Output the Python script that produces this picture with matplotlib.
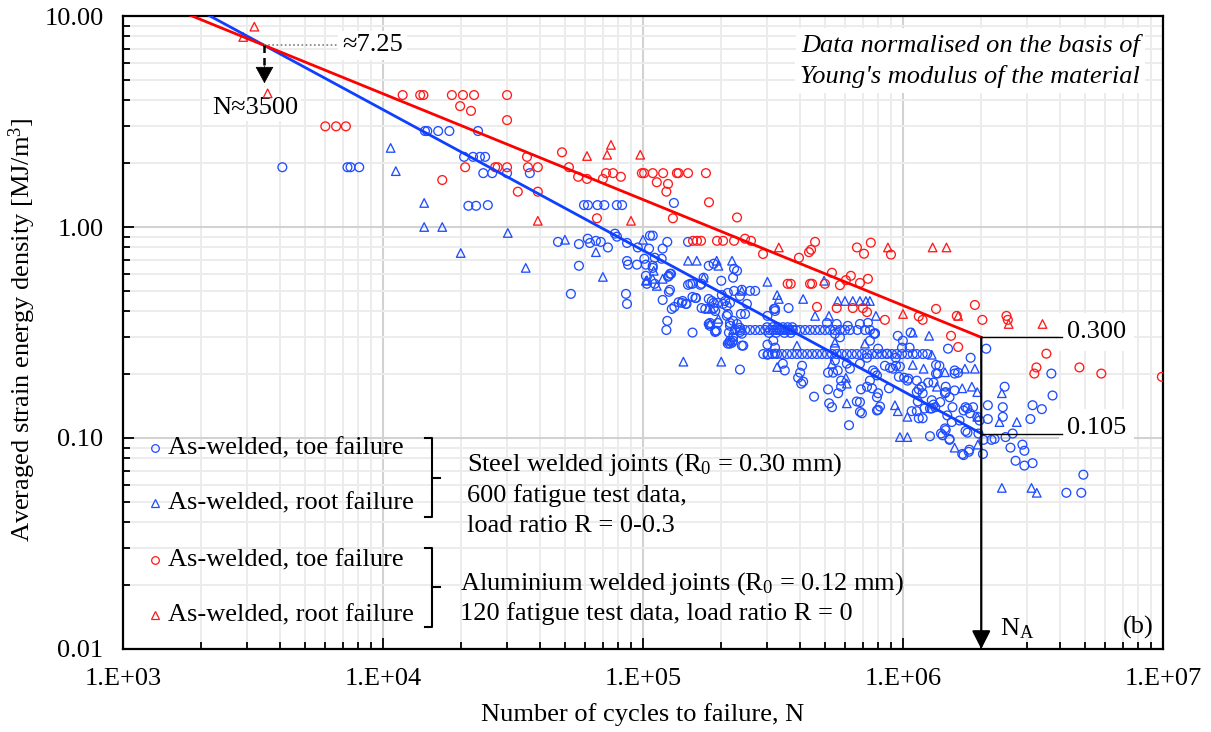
import matplotlib
matplotlib.use("Agg")
import matplotlib.pyplot as plt
from matplotlib.lines import Line2D
from matplotlib.ticker import FixedLocator, FuncFormatter, NullFormatter
import numpy as np

plt.rcParams['font.family'] = ['Liberation Serif', 'DejaVu Serif']
plt.rcParams['mathtext.fontset'] = 'custom'
plt.rcParams['mathtext.rm'] = 'Liberation Serif'
plt.rcParams['mathtext.it'] = 'Liberation Serif:italic'

# ---------------------------------------------------------------- data
# Steel welded joints, as-welded, toe failure (cycles, SED in MJ/m^3)
steel_toe_cycles = [
    4100, 7300, 7500, 8100, 14500, 14800, 16300, 18000, 23200, 20500,
    22200, 23600, 24700, 24300, 26300, 30000, 36700, 21300, 22800, 25300,
    59300, 61400, 66800, 71000, 79300, 83100, 131500, 47100, 56700, 61300,
    62500, 65900, 68800, 73300, 78000, 79400, 86800, 95500, 106400, 109000,
    124000, 105500, 119000, 149000, 56700, 52800, 86000, 86800, 86800, 87600,
    94800, 102600, 109000, 118000, 125800, 127000, 119000, 127000, 137000, 142000,
    147000, 129000, 132000, 124000, 123000, 155000, 149000, 155000, 168000, 179000,
    187000, 194000, 179000, 189500, 203000, 210000, 212000, 222000, 238000, 247000,
    214000, 222000, 216000, 240000, 236000, 224000, 240000, 258000, 270000, 251000,
    301000, 301000, 322000, 236000, 155000, 159000, 141000, 168000, 101200, 111000,
    109000, 102600, 103500, 111000, 128200, 124800, 125800, 146000, 160000, 152000,
    166000, 171000, 184000, 187000, 189500, 181000, 194000, 189500, 201000, 207000,
    216000, 212000, 236000, 222000, 230000, 216000, 230000, 236000, 240000, 216000,
    222000, 243000, 322000, 301000, 322000, 179000, 187000, 224000, 200000, 322000,
    363000, 210000, 216000, 181000, 192000, 173500, 212000, 220000, 319000, 317000,
    345000, 351000, 409000, 402000, 395000, 413000, 406000, 455000, 515000, 520000,
    533000, 563000, 578000, 664000, 620000, 689000, 727000, 746000, 695000, 794000,
    547000, 572000, 547000, 608000, 625000, 683000, 727000, 746000, 780000, 561000,
    538000, 515000, 780000, 794000, 547000, 578000, 802000, 868000, 939000, 991000,
    999000, 955000, 1060000, 852000, 915000, 973000, 1010000, 1050000, 1130000, 1180000,
    1140000, 1080000, 1190000, 1270000, 1310000, 1310000, 1340000, 1380000, 1490000, 1580000,
    1630000, 1460000, 1460000, 1510000, 1390000, 1550000, 1710000, 1770000, 1810000, 1860000,
    1970000, 1950000, 2030000, 1710000, 1800000, 1270000, 1420000, 1460000, 1510000, 2090000,
    1820000, 802000, 760000, 816000, 794000, 773000, 1070000, 767000, 891000, 940000,
    964000, 1040000, 1130000, 1250000, 1360000, 1340000, 1580000, 883000, 683000, 802000,
    1150000, 1190000, 1290000, 1450000, 1580000, 1210000, 1290000, 1130000, 1150000, 1330000,
    1930000, 1480000, 1540000, 1450000, 1400000, 1510000, 1770000, 1690000, 1790000, 683000,
    3720000, 2460000, 3760000, 2120000, 2420000, 3150000, 3420000, 2120000, 2420000, 3090000,
    2640000, 2480000, 2040000, 2190000, 2250000, 2590000, 2880000, 2930000, 2710000, 2930000,
    3150000, 4940000, 4250000, 4850000, 1740000, 1740000, 1650000, 510000, 556000, 613000,
    683000, 733000, 780000,
    226000, 236000, 247000, 258000, 270000, 282000, 295000, 308000, 317000, 327000,
    333000, 336000, 342000, 348000, 354000, 360000, 367000, 377000, 388000, 402000,
    420000, 439000, 459000, 479000, 501000, 524000, 547000, 572000, 598000, 625000,
    668000, 714000, 746000,
    300000, 315000, 330000, 345000, 360000, 375000, 305000, 325000, 350000, 370000,
    290000, 303000, 315000, 328000, 342000, 358000, 374000, 391000, 409000, 428000,
    447000, 467000, 488000, 510000, 533000, 556000, 582000, 608000, 636000, 664000,
    695000, 727000, 760000, 794000, 830000, 867000, 907000, 947000, 991000, 1040000,
    1090000, 1130000, 1190000, 1240000,
]
steel_toe_sed = [
    1.92, 1.92, 1.92, 1.92, 2.85, 2.85, 2.85, 2.85, 2.85, 2.15,
    2.15, 2.15, 2.15, 1.80, 1.80, 1.80, 1.80, 1.26, 1.26, 1.27,
    1.27, 1.27, 1.27, 1.27, 1.27, 1.27, 1.30, 0.85, 0.83, 0.88,
    0.84, 0.86, 0.85, 0.80, 0.93, 0.90, 0.84, 0.80, 0.91, 0.91,
    0.85, 0.79, 0.79, 0.85, 0.655, 0.482, 0.482, 0.432, 0.69, 0.663,
    0.663, 0.663, 0.64, 0.707, 0.587, 0.60, 0.451, 0.504, 0.44, 0.446,
    0.432, 0.409, 0.418, 0.359, 0.325, 0.316, 0.532, 0.538, 0.538, 0.456,
    0.437, 0.437, 0.347, 0.322, 0.432, 0.422, 0.387, 0.359, 0.387, 0.387,
    0.316, 0.30, 0.28, 0.274, 0.318, 0.498, 0.504, 0.498, 0.498, 0.432,
    0.379, 0.248, 0.251, 0.211, 0.466, 0.461, 0.437, 0.413, 0.707, 0.715,
    0.655, 0.587, 0.538, 0.538, 0.60, 0.581, 0.493, 0.432, 0.461, 0.538,
    0.532, 0.575, 0.446, 0.413, 0.40, 0.351, 0.351, 0.318, 0.476, 0.446,
    0.437, 0.487, 0.471, 0.575, 0.62, 0.351, 0.347, 0.333, 0.312, 0.289,
    0.289, 0.274, 0.40, 0.277, 0.268, 0.655, 0.67, 0.634, 0.556, 0.409,
    0.413, 0.379, 0.34, 0.34, 0.322, 0.409, 0.28, 0.283, 0.409, 0.289,
    0.225, 0.209, 0.22, 0.204, 0.193, 0.185, 0.181, 0.157, 0.17, 0.146,
    0.14, 0.163, 0.175, 0.149, 0.115, 0.17, 0.175, 0.187, 0.131, 0.156,
    0.312, 0.30, 0.233, 0.225, 0.213, 0.225, 0.24, 0.289, 0.312, 0.209,
    0.204, 0.204, 0.204, 0.198, 0.265, 0.187, 0.265, 0.251, 0.24, 0.268,
    0.289, 0.305, 0.268, 0.22, 0.213, 0.218, 0.193, 0.191, 0.165, 0.175,
    0.149, 0.134, 0.124, 0.138, 0.144, 0.183, 0.202, 0.22, 0.265, 0.202,
    0.204, 0.175, 0.165, 0.156, 0.148, 0.14, 0.135, 0.138, 0.131, 0.14,
    0.121, 0.105, 0.084, 0.083, 0.088, 0.102, 0.103, 0.109, 0.099, 0.265,
    0.24, 0.163, 0.172, 0.141, 0.135, 0.312, 0.316, 0.209, 0.215, 0.22,
    0.195, 0.187, 0.187, 0.183, 0.202, 0.222, 0.209, 0.172, 0.148, 0.136,
    0.17, 0.163, 0.151, 0.163, 0.168, 0.138, 0.138, 0.134, 0.124, 0.14,
    0.126, 0.128, 0.119, 0.111, 0.105, 0.098, 0.106, 0.084, 0.086, 0.133,
    0.202, 0.175, 0.159, 0.143, 0.14, 0.143, 0.137, 0.123, 0.126, 0.123,
    0.105, 0.101, 0.098, 0.098, 0.099, 0.09, 0.093, 0.087, 0.078, 0.074,
    0.076, 0.067, 0.055, 0.055, 0.14, 0.108, 0.121, 0.351, 0.347, 0.34,
    0.347, 0.351, 0.314,
    0.325, 0.325, 0.325, 0.325, 0.325, 0.325, 0.325, 0.325, 0.325, 0.325,
    0.325, 0.325, 0.325, 0.325, 0.325, 0.325, 0.325, 0.325, 0.325, 0.325,
    0.325, 0.325, 0.325, 0.325, 0.325, 0.325, 0.325, 0.325, 0.325, 0.325,
    0.325, 0.325, 0.325,
    0.335, 0.335, 0.335, 0.335, 0.335, 0.335, 0.315, 0.315, 0.315, 0.315,
    0.25, 0.25, 0.25, 0.25, 0.25, 0.25, 0.25, 0.25, 0.25, 0.25,
    0.25, 0.25, 0.25, 0.25, 0.25, 0.25, 0.25, 0.25, 0.25, 0.25,
    0.25, 0.25, 0.25, 0.25, 0.25, 0.25, 0.25, 0.25, 0.25, 0.25,
    0.25, 0.25, 0.25, 0.25,
]

# Steel welded joints, as-welded, root failure
steel_root_cycles = [
    10700, 11200, 14400, 14400, 16900, 19900, 30200, 35400, 50100, 65900,
    70100, 100000, 103500, 149000, 161000, 192000, 220000, 195000, 301000, 109000,
    102600, 113000, 119000, 110000, 178000, 184000, 181000, 195000, 222000, 212000,
    143000, 200000, 328000, 171000, 240000, 497000, 328000, 333000, 413000, 459000,
    519000, 561000, 598000, 641000, 683000, 720000, 746000, 787000, 391000, 608000,
    603000, 608000, 714000, 547000, 533000, 1090000, 1260000, 1290000, 1090000, 1200000,
    1450000, 1730000, 1890000, 1350000, 1690000, 1840000, 1930000, 931000, 955000, 1040000,
    973000, 1040000, 1580000, 1940000, 1930000, 2400000, 2350000, 2740000, 2400000, 3120000,
    3270000,
]
steel_root_sed = [
    2.37, 1.84, 1.30, 1.00, 1.00, 0.753, 0.937, 0.64, 0.87, 0.76,
    0.58, 0.87, 0.56, 0.692, 0.692, 0.692, 0.692, 0.655, 0.55, 0.568,
    0.556, 0.526, 0.568, 0.62, 0.413, 0.409, 0.347, 0.367, 0.325, 0.289,
    0.23, 0.23, 0.217, 0.575, 0.498, 0.556, 0.476, 0.456, 0.456, 0.379,
    0.379, 0.446, 0.446, 0.446, 0.446, 0.446, 0.446, 0.379, 0.274, 0.181,
    0.193, 0.146, 0.28, 0.283, 0.225, 0.316, 0.305, 0.248, 0.222, 0.213,
    0.205, 0.213, 0.213, 0.175, 0.172, 0.175, 0.165, 0.143, 0.134, 0.126,
    0.101, 0.101, 0.09, 0.093, 0.126, 0.163, 0.119, 0.119, 0.058, 0.058,
    0.055,
]

# Aluminium welded joints, as-welded, toe failure
alu_toe_cycles = [
    6000, 6600, 7200, 11900, 13900, 14300, 16900, 18400, 19800, 20300,
    20700, 21800, 22400, 27000, 27600, 30000, 30000, 30000, 33000, 35800,
    36100, 39400, 39400, 48800, 51900, 56300, 60900, 66500, 70100, 72100,
    76700, 82200, 99000, 101000, 109000, 113000, 119500, 123000, 124800, 130300,
    135000, 137000, 149000, 155700, 161300, 167200, 174600, 179400, 192600, 203300,
    224000, 230000, 246800, 260200, 289500, 360000, 370000, 398000, 435000, 439000,
    443000, 447000, 459000, 467000, 501000, 533000, 556000, 572000, 603000, 630000,
    641000, 665000, 683000, 701000, 708000, 727000, 733000, 752000, 852000, 899000,
    1150000, 1190000, 1340000, 1530000, 1610000, 1630000, 1890000, 2020000, 2500000, 2530000,
    3200000, 3260000, 3560000, 4770000, 5790000, 9900000,
]
alu_toe_sed = [
    3.0, 3.0, 3.0, 4.22, 4.22, 4.22, 1.67, 4.22, 3.74, 4.22,
    1.92, 3.55, 4.22, 1.92, 1.92, 4.22, 3.21, 1.92, 1.47, 2.15,
    1.92, 1.92, 1.47, 2.26, 1.92, 1.73, 1.69, 1.10, 1.69, 1.80,
    1.80, 1.73, 1.80, 1.80, 1.80, 1.63, 1.80, 1.47, 1.60, 1.10,
    1.80, 1.80, 1.80, 0.86, 0.86, 0.86, 1.80, 1.31, 0.86, 0.86,
    0.86, 1.11, 0.88, 0.86, 0.745, 0.538, 0.538, 0.715, 0.76, 0.538,
    0.78, 0.538, 0.85, 0.418, 0.538, 0.607, 0.413, 0.53, 0.56, 0.587,
    0.413, 0.80, 0.543, 0.413, 0.747, 0.395, 0.568, 0.843, 0.363, 0.74,
    0.377, 0.363, 0.409, 0.305, 0.379, 0.27, 0.427, 0.363, 0.379, 0.363,
    0.202, 0.216, 0.251, 0.216, 0.202, 0.195,
]

# Aluminium welded joints, as-welded, root failure
alu_root_cycles = [
    2900, 3200, 3600, 39400, 60900, 72800, 75300, 89900, 97600, 333000,
    875000, 1000000, 1300000, 1470000, 1630000, 2550000, 3440000,
]
alu_root_sed = [
    7.95, 8.9, 4.3, 1.07, 2.17, 2.2, 2.45, 1.07, 2.2, 0.80,
    0.80, 0.387, 0.80, 0.80, 0.379, 0.347, 0.347,
]

# Design curves: SED at N_A and the point where the two curves meet
N_A = 2.0e6
steel_sed_at_NA = 0.105
alu_sed_at_NA = 0.300
N_cross = 3500
sed_cross = 7.25

x_major = [1e3, 1e4, 1e5, 1e6, 1e7]
y_major = [0.01, 0.1, 1.0, 10.0]

BLUE = '#1f4dff'
RED = '#ff1a1a'
FS = 19

# ---------------------------------------------------------------- figure
fig = plt.figure(figsize=(12.11, 7.32), dpi=100)
ax = fig.add_axes([0.10157, 0.11339, 0.85879, 0.86475])
ax.set_xscale('log')
ax.set_yscale('log')
ax.set_xlim(x_major[0], x_major[-1])
ax.set_ylim(y_major[0], y_major[-1])

minor_x = [m * 10.0 ** e for e in range(3, 7) for m in range(2, 10)]
minor_y = [m * 10.0 ** e for e in range(-2, 1) for m in range(2, 10)]
ax.xaxis.set_major_locator(FixedLocator(x_major))
ax.yaxis.set_major_locator(FixedLocator(y_major))
ax.xaxis.set_minor_locator(FixedLocator(minor_x))
ax.yaxis.set_minor_locator(FixedLocator(minor_y))
ax.xaxis.set_major_formatter(FuncFormatter(lambda v, p: "1.E+%02d" % round(np.log10(v))))
ax.yaxis.set_major_formatter(FuncFormatter(lambda v, p: "%.2f" % v))
ax.xaxis.set_minor_formatter(NullFormatter())
ax.yaxis.set_minor_formatter(NullFormatter())

ax.tick_params(which='both', direction='in', top=False, right=False,
               labelsize=FS, width=1.3, pad=14)
ax.tick_params(which='major', length=8)
ax.tick_params(which='minor', length=5)

ax.grid(which='major', color='#d2d2d2', lw=1.5)
ax.grid(which='minor', color='#ececec', lw=1.4)
ax.set_axisbelow(True)
for s in ax.spines.values():
    s.set_linewidth(1.6)
    s.set_color('black')

# scatter data
mk = dict(facecolors='none', linewidths=0.95, zorder=3)
ax.scatter(steel_toe_cycles, steel_toe_sed, marker='o', s=40, edgecolors=BLUE, **mk)
ax.scatter(steel_root_cycles, steel_root_sed, marker='^', s=38, edgecolors=BLUE, **mk)
ax.scatter(alu_toe_cycles, alu_toe_sed, marker='o', s=40, edgecolors=RED, **mk)
ax.scatter(alu_root_cycles, alu_root_sed, marker='^', s=38, edgecolors=RED, **mk)

# design curves through the stated values
k_steel = np.log10(sed_cross / steel_sed_at_NA) / np.log10(N_A / N_cross)
k_alu = np.log10(sed_cross / alu_sed_at_NA) / np.log10(N_A / N_cross)
n_ends = np.array([x_major[0], N_A])
ax.plot(n_ends, steel_sed_at_NA * (n_ends / N_A) ** (-k_steel), color='#1040ff', lw=2.0, zorder=4)
ax.plot(n_ends, alu_sed_at_NA * (n_ends / N_A) ** (-k_alu), color='#ff0000', lw=2.0, zorder=4)

# white label boxes sit above the grid but below the data marks
BOX_Z = 2

# N_A marker: vertical arrow to the axis and value labels
ax.annotate('', xy=(N_A, y_major[0]), xytext=(N_A, alu_sed_at_NA),
            arrowprops=dict(arrowstyle='-|>,head_length=0.55,head_width=0.28',
                            mutation_scale=20, lw=1.6, color='black',
                            shrinkA=0, shrinkB=0), zorder=5)
label_x = 4.28e6
for val in (alu_sed_at_NA, steel_sed_at_NA):
    ax.plot([N_A, 4.1e6], [val, val], color='black', lw=1.0, zorder=5)
    ax.annotate('%.3f' % val, xy=(label_x, val), xytext=(0, 4),
                textcoords='offset points', ha='left', va='center', fontsize=FS,
                bbox=dict(boxstyle='square,pad=0.3', fc='white', ec='none'), zorder=BOX_Z)
ax.text(0.8433, 0.021, r'N$_\mathregular{A}$', transform=ax.transAxes,
        fontsize=FS, ha='left', va='baseline')
ax.text(0.9913, 0.0348, '(b)', transform=ax.transAxes, fontsize=FS,
        ha='right', va='center')

# crossing point of the two curves
ax.plot([N_cross, 6800], [sed_cross, sed_cross], color='#7f7f7f', lw=1.2,
        ls=(0, (1, 1.5)), zorder=5)
ax.plot([N_cross, N_cross], [sed_cross, 5.75], color='black', lw=1.8,
        ls=(0, (3, 2)), zorder=5)
ax.annotate('', xy=(N_cross, 4.8), xytext=(N_cross, 5.8),
            arrowprops=dict(arrowstyle='-|>,head_length=0.55,head_width=0.3',
                            mutation_scale=20, lw=0.5, color='black',
                            shrinkA=0, shrinkB=0), zorder=5)
ax.text(6950, sed_cross, u'\u2248%.2f' % sed_cross, fontsize=FS, ha='left',
        va='center', bbox=dict(boxstyle='square,pad=0.15', fc='white', ec='none'), zorder=BOX_Z)
ax.text(2200, 3.68, u'N\u2248%d' % N_cross, fontsize=FS, ha='left', va='center',
        bbox=dict(boxstyle='square,pad=0.1', fc='white', ec='none'), zorder=BOX_Z)

# note in the top right corner
for txt, fy in (('Data normalised on the basis of', 0.954),
                ("Young's modulus of the material", 0.905)):
    ax.text(0.978, fy, txt, transform=ax.transAxes, fontsize=FS, style='italic',
            ha='right', va='center', zorder=BOX_Z,
            bbox=dict(boxstyle='square,pad=0.2', fc='white', ec='none'))

# legend entries
legend_rows = [
    ('o', BLUE, 'As-welded, toe failure', 0.3175),
    ('^', BLUE, 'As-welded, root failure', 0.2306),
    ('o', RED, 'As-welded, toe failure', 0.1406),
    ('^', RED, 'As-welded, root failure', 0.0537),
]
for m, c, lab, fy in legend_rows:
    ax.add_line(Line2D([0.0308], [fy], marker=m, ms=5.5, mfc='none', mec=c, mew=0.9,
                       ls='none', transform=ax.transAxes, zorder=6))
    ax.text(0.0433, fy, lab, transform=ax.transAxes, fontsize=FS, ha='left', va='center')

# brackets grouping the legend entries
for top, bot in ((0.3333, 0.2085), (0.1596, 0.0348)):
    mid = 0.5 * (top + bot)
    ax.add_line(Line2D([0.2904, 0.2971, 0.2971, 0.2904], [top, top, bot, bot],
                       color='black', lw=1.5, transform=ax.transAxes))
    ax.add_line(Line2D([0.2971, 0.3048], [mid, mid], color='black', lw=1.5,
                       transform=ax.transAxes))

ax.text(0.3308, 0.2907, r'Steel welded joints (R$_\mathregular{0}$ = 0.30 mm)',
        transform=ax.transAxes, fontsize=FS, ha='left', va='center')
ax.text(0.3308, 0.2417, '600 fatigue test data,', transform=ax.transAxes,
        fontsize=FS, ha='left', va='center')
ax.text(0.3308, 0.1943, 'load ratio R = 0-0.3', transform=ax.transAxes,
        fontsize=FS, ha='left', va='center')
ax.text(0.324, 0.1027, r'Aluminium welded joints (R$_\mathregular{0}$ = 0.12 mm)',
        transform=ax.transAxes, fontsize=FS, ha='left', va='center')
ax.text(0.324, 0.0553, '120 fatigue test data, load ratio R = 0',
        transform=ax.transAxes, fontsize=FS, ha='left', va='center')

# axis titles
ax.set_xlabel('Number of cycles to failure, N', fontsize=FS)
ax.xaxis.set_label_coords(0.5, -0.104)
ax.xaxis.label.set_va('center')
ax.set_ylabel(r'Averaged strain energy density [MJ/m$^\mathregular{3}$]', fontsize=FS)
ax.yaxis.set_label_coords(-0.0971, 0.504)
ax.yaxis.label.set_va('center')

fig.savefig('out.png', dpi=100)
